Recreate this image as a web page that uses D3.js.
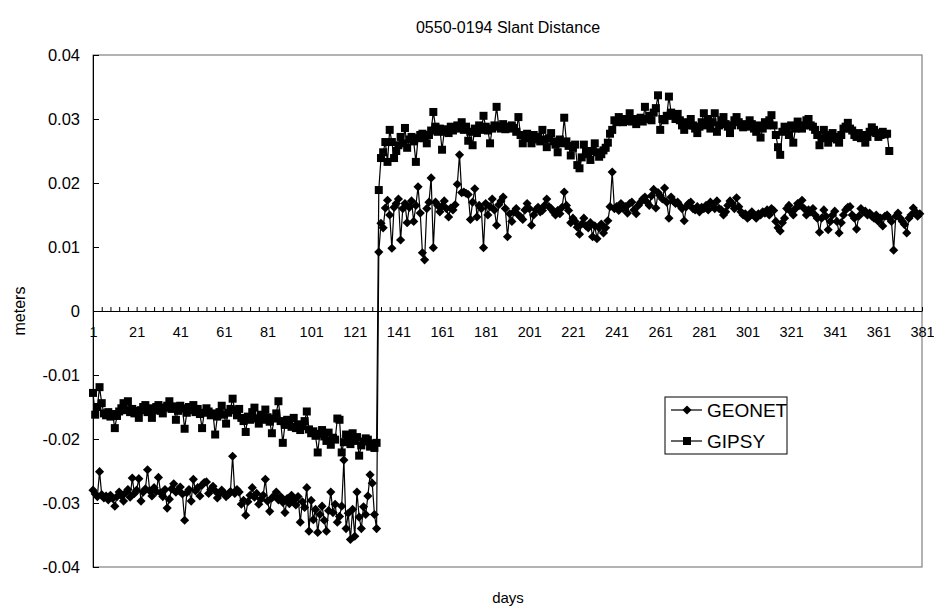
<!DOCTYPE html>
<html>
<head>
<meta charset="utf-8">
<script src="https://cdn.jsdelivr.net/npm/d3@7"></script>
<style>
  body { margin: 0; background: #fff; }
  text { font-family: "Liberation Sans", Arial, sans-serif; fill: #000; }
</style>
</head>
<body>
<svg width="934" height="614"></svg>
<script>
// days 1..380 (GEONET) and 1..366 (GIPSY), values in metres
var geonet = [
-0.0280,-0.0286,-0.0290,-0.0251,-0.0287,-0.0292,-0.0289,-0.0295,-0.0288,-0.0293,
-0.0305,-0.0290,-0.0283,-0.0289,-0.0297,-0.0284,-0.0279,-0.0291,-0.0261,-0.0285,
-0.0280,-0.0262,-0.0297,-0.0283,-0.0278,-0.0248,-0.0281,-0.0289,-0.0276,-0.0282,
-0.0260,-0.0284,-0.0290,-0.0279,-0.0308,-0.0294,-0.0278,-0.0270,-0.0283,-0.0280,
-0.0275,-0.0286,-0.0327,-0.0284,-0.0279,-0.0297,-0.0263,-0.0281,-0.0276,-0.0289,
-0.0272,-0.0268,-0.0267,-0.0285,-0.0279,-0.0274,-0.0281,-0.0292,-0.0286,-0.0280,
-0.0284,-0.0290,-0.0287,-0.0282,-0.0227,-0.0285,-0.0279,-0.0283,-0.0302,-0.0296,
-0.0319,-0.0298,-0.0288,-0.0276,-0.0291,-0.0285,-0.0302,-0.0294,-0.0288,-0.0263,
-0.0297,-0.0313,-0.0292,-0.0289,-0.0283,-0.0295,-0.0290,-0.0299,-0.0315,-0.0293,
-0.0301,-0.0288,-0.0296,-0.0303,-0.0290,-0.0330,-0.0298,-0.0307,-0.0276,-0.0344,
-0.0296,-0.0326,-0.0310,-0.0346,-0.0318,-0.0305,-0.0327,-0.0344,-0.0312,-0.0283,
-0.0315,-0.0302,-0.0330,-0.0321,-0.0305,-0.0233,-0.0340,-0.0316,-0.0357,-0.0310,
-0.0352,-0.0283,-0.0322,-0.0340,-0.0306,-0.0318,-0.0289,-0.0256,-0.0269,-0.0318,
-0.0340,
0.0092,0.0137,0.0130,0.0161,0.0173,0.0150,0.0098,0.0162,0.0168,
0.0175,0.0111,0.0160,0.0168,0.0138,0.0162,0.0172,0.0140,0.0165,0.0194,
0.0153,0.0091,0.0080,0.0160,0.0170,0.0208,0.0099,0.0170,0.0165,0.0155,
0.0164,0.0172,0.0160,0.0147,0.0161,0.0158,0.0166,0.0198,0.0244,0.0185,
0.0186,0.0184,0.0182,0.0143,0.0170,0.0191,0.0147,0.0165,0.0160,0.0099,
0.0168,0.0150,0.0163,0.0175,0.0158,0.0134,0.0166,0.0172,0.0178,0.0160,
0.0116,0.0152,0.0140,0.0155,0.0160,0.0150,0.0147,0.0143,0.0158,0.0168,
0.0160,0.0134,0.0150,0.0158,0.0162,0.0155,0.0157,0.0165,0.0175,0.0163,
0.0160,0.0155,0.0150,0.0157,0.0152,0.0162,0.0186,0.0165,0.0157,0.0138,
0.0145,0.0140,0.0131,0.0120,0.0136,0.0145,0.0133,0.0130,0.0138,0.0116,
0.0133,0.0113,0.0130,0.0136,0.0122,0.0130,0.0141,0.0163,0.0217,0.0160,
0.0163,0.0157,0.0168,0.0160,0.0163,0.0153,0.0168,0.0170,0.0158,0.0152,
0.0165,0.0170,0.0175,0.0178,0.0170,0.0165,0.0180,0.0190,0.0161,0.0185,
0.0180,0.0175,0.0192,0.0170,0.0145,0.0178,0.0172,0.0168,0.0170,0.0165,
0.0160,0.0141,0.0163,0.0168,0.0170,0.0160,0.0158,0.0163,0.0155,0.0162,
0.0160,0.0165,0.0158,0.0170,0.0165,0.0160,0.0172,0.0160,0.0158,0.0150,
0.0155,0.0165,0.0172,0.0168,0.0160,0.0177,0.0163,0.0155,0.0150,0.0152,
0.0145,0.0148,0.0155,0.0150,0.0145,0.0152,0.0150,0.0155,0.0153,0.0158,
0.0150,0.0160,0.0157,0.0140,0.0130,0.0125,0.0138,0.0145,0.0160,0.0165,
0.0155,0.0150,0.0160,0.0168,0.0165,0.0173,0.0160,0.0150,0.0158,0.0155,
0.0160,0.0150,0.0145,0.0123,0.0145,0.0158,0.0148,0.0127,0.0140,0.0150,
0.0156,0.0140,0.0122,0.0138,0.0150,0.0158,0.0162,0.0163,0.0150,0.0145,
0.0128,0.0148,0.0160,0.0155,0.0156,0.0150,0.0153,0.0148,0.0145,0.0150,
0.0140,0.0145,0.0133,0.0148,0.0150,0.0145,0.0140,0.0095,0.0148,0.0153,
0.0145,0.0140,0.0135,0.0122,0.0145,0.0150,0.0161,0.0155,0.0148,0.0152
];
var gipsy = [
-0.0128,-0.0162,-0.0150,-0.0119,-0.0144,-0.0160,-0.0163,-0.0158,-0.0165,-0.0161,
-0.0183,-0.0164,-0.0157,-0.0152,-0.0144,-0.0155,-0.0141,-0.0158,-0.0153,-0.0160,
-0.0156,-0.0167,-0.0155,-0.0150,-0.0147,-0.0158,-0.0152,-0.0167,-0.0155,-0.0150,
-0.0147,-0.0156,-0.0160,-0.0151,-0.0148,-0.0141,-0.0153,-0.0149,-0.0170,-0.0156,
-0.0148,-0.0152,-0.0184,-0.0159,-0.0150,-0.0155,-0.0147,-0.0158,-0.0153,-0.0161,
-0.0183,-0.0159,-0.0152,-0.0157,-0.0163,-0.0160,-0.0193,-0.0165,-0.0158,-0.0148,
-0.0162,-0.0176,-0.0159,-0.0153,-0.0137,-0.0155,-0.0163,-0.0153,-0.0167,-0.0172,
-0.0189,-0.0165,-0.0170,-0.0158,-0.0151,-0.0168,-0.0176,-0.0162,-0.0170,-0.0154,
-0.0166,-0.0173,-0.0191,-0.0168,-0.0160,-0.0141,-0.0172,-0.0206,-0.0178,-0.0170,
-0.0175,-0.0181,-0.0167,-0.0183,-0.0177,-0.0186,-0.0180,-0.0172,-0.0157,-0.0185,
-0.0191,-0.0188,-0.0195,-0.0221,-0.0192,-0.0186,-0.0196,-0.0203,-0.0190,-0.0209,
-0.0198,-0.0201,-0.0168,-0.0170,-0.0221,-0.0205,-0.0193,-0.0198,-0.0208,-0.0191,
-0.0203,-0.0197,-0.0226,-0.0210,-0.0204,-0.0199,-0.0201,-0.0212,-0.0207,-0.0214,
-0.0206,
0.0189,0.0239,0.0248,0.0264,0.0233,0.0283,0.0264,0.0239,0.0250,
0.0259,0.0272,0.0262,0.0286,0.0255,0.0268,0.0272,0.0265,0.0233,0.0270,
0.0275,0.0277,0.0270,0.0262,0.0275,0.0282,0.0311,0.0288,0.0280,0.0285,
0.0252,0.0280,0.0284,0.0278,0.0288,0.0282,0.0286,0.0290,0.0285,0.0295,
0.0283,0.0288,0.0266,0.0280,0.0259,0.0285,0.0278,0.0290,0.0283,0.0305,
0.0288,0.0282,0.0262,0.0285,0.0290,0.0319,0.0288,0.0285,0.0292,0.0284,
0.0288,0.0285,0.0290,0.0286,0.0280,0.0303,0.0275,0.0262,0.0272,0.0277,
0.0270,0.0262,0.0275,0.0268,0.0272,0.0265,0.0283,0.0268,0.0256,0.0270,
0.0278,0.0265,0.0260,0.0248,0.0268,0.0262,0.0302,0.0265,0.0258,0.0243,
0.0255,0.0260,0.0228,0.0223,0.0240,0.0260,0.0250,0.0245,0.0236,0.0250,
0.0262,0.0248,0.0241,0.0245,0.0251,0.0255,0.0263,0.0277,0.0283,0.0298,
0.0295,0.0303,0.0298,0.0295,0.0300,0.0297,0.0309,0.0296,0.0300,0.0292,
0.0298,0.0302,0.0296,0.0319,0.0300,0.0305,0.0298,0.0310,0.0317,0.0337,
0.0283,0.0300,0.0298,0.0305,0.0335,0.0310,0.0305,0.0300,0.0308,0.0298,
0.0290,0.0283,0.0295,0.0290,0.0300,0.0290,0.0285,0.0278,0.0288,0.0295,
0.0309,0.0290,0.0300,0.0285,0.0295,0.0309,0.0280,0.0290,0.0298,0.0303,
0.0292,0.0288,0.0278,0.0290,0.0298,0.0303,0.0295,0.0290,0.0287,0.0292,
0.0288,0.0298,0.0292,0.0285,0.0280,0.0290,0.0271,0.0285,0.0295,0.0290,
0.0298,0.0306,0.0290,0.0275,0.0256,0.0244,0.0280,0.0288,0.0283,0.0275,
0.0290,0.0263,0.0285,0.0296,0.0288,0.0285,0.0290,0.0298,0.0300,0.0290,
0.0288,0.0283,0.0275,0.0259,0.0270,0.0283,0.0275,0.0263,0.0270,0.0278,
0.0272,0.0268,0.0263,0.0275,0.0285,0.0288,0.0294,0.0285,0.0282,0.0275,
0.0272,0.0278,0.0270,0.0275,0.0263,0.0272,0.0280,0.0287,0.0283,0.0278,
0.0272,0.0275,0.0280,0.0276,0.0277,0.0250
];
var seriesNames = ["GEONET", "GIPSY"];
var yTicks = [-0.04, -0.03, -0.02, -0.01, 0, 0.01, 0.02, 0.03, 0.04];
var dayTicks = d3.range(1, 382, 4);     // tick marks every 4 days
var dayLabelStep = 20;                    // a label on every 20th day

var svg = d3.select("svg");
var x = d3.scaleLinear().domain([1, 381]).range([93, 922]);
var y = d3.scaleLinear().domain([-0.04, 0.04]).range([567, 55]);

//Plot area frame
svg.append("rect")
  .attr("x", 93).attr("y", 55)
  .attr("width", 829).attr("height", 512)
  .attr("fill", "none").attr("stroke", "#808080").attr("stroke-width", 1.2);

//Vertical axis
var yAxis = svg.append("g")
  .attr("transform", "translate(93,0)")
  .call(d3.axisLeft(y).tickValues(yTicks).tickSizeInner(-6).tickSizeOuter(0).tickPadding(13)
    .tickFormat(function(d){ return d === 0 ? "0" : d.toFixed(2); }));
yAxis.select(".domain").attr("stroke", "#000");
yAxis.selectAll("text").style("font-size", "16.5px").style("font-family", "Liberation Sans, Arial, sans-serif");

//Horizontal axis through zero
var xAxis = svg.append("g")
  .attr("transform", "translate(0," + y(0) + ")")
  .call(d3.axisBottom(x).tickValues(dayTicks).tickSizeInner(-4).tickSizeOuter(0).tickPadding(16)
    .tickFormat(function(d){ return (d - 1) % dayLabelStep === 0 ? d : ""; }));
xAxis.select(".domain").attr("stroke", "#000");
xAxis.selectAll("text").style("font-size", "14.5px").style("font-family", "Liberation Sans, Arial, sans-serif");

//Series
var line = d3.line()
  .x(function(d, i){ return x(i + 1); })
  .y(function(d){ return y(d); });
var diamond = d3.symbol(d3.symbolSquare, 42);
var square = d3.symbol(d3.symbolSquare, 64);

function drawSeries(values, sym, rot) {
  var g = svg.append("g");
  g.append("path").datum(values)
    .attr("d", line).attr("fill", "none").attr("stroke", "#000").attr("stroke-width", 1.2);
  g.selectAll("path.m").data(values).enter().append("path")
    .attr("class", "m")
    .attr("d", sym)
    .attr("transform", function(d, i){ return "translate(" + x(i + 1) + "," + y(d) + ") rotate(" + rot + ")"; })
    .attr("fill", "#000");
}
drawSeries(gipsy, square, 0);
drawSeries(geonet, diamond, 45);

//Title and axis labels
svg.append("text").attr("x", 508).attr("y", 33).attr("text-anchor", "middle")
  .style("font-size", "16px").text("0550-0194 Slant Distance");
svg.append("text").attr("x", 508).attr("y", 603).attr("text-anchor", "middle")
  .style("font-size", "15px").text("days");
svg.append("text").attr("transform", "translate(25,311) rotate(-90)").attr("text-anchor", "middle")
  .style("font-size", "16px").text("meters");

//Legend
var leg = svg.append("g").attr("transform", "translate(665,397)");
leg.append("rect").attr("width", 122).attr("height", 57)
  .attr("fill", "#fff").attr("stroke", "#000").attr("stroke-width", 1);
seriesNames.forEach(function(name, i){
  var ly = 13 + i * 31;
  leg.append("line").attr("x1", 6).attr("x2", 37).attr("y1", ly).attr("y2", ly)
    .attr("stroke", "#000").attr("stroke-width", 1.2);
  leg.append("path").attr("d", i === 0 ? diamond : square)
    .attr("transform", "translate(22," + ly + ") rotate(" + (i === 0 ? 45 : 0) + ")")
    .attr("fill", "#000");
  leg.append("text").attr("x", 42).attr("y", ly + 7).style("font-size", "19px").text(name);
});
</script>
</body>
</html>
